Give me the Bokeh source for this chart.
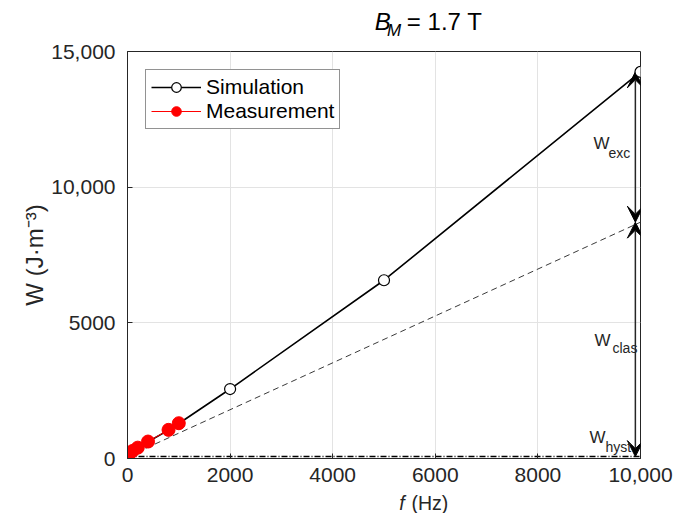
from bokeh.plotting import figure
from bokeh.layouts import column
from bokeh.models import (Range1d, FixedTicker, Legend, LegendItem, Label, Arrow, VeeHead)
from bokeh.embed import file_html
from bokeh.resources import INLINE

# ---------------- data ----------------
f_sim = [10, 100, 200, 400, 800, 1000, 2000, 5000, 10000]
W_sim = [70, 270, 390, 615, 1045, 1290, 2560, 6570, 14250]

f_meas = [10, 100, 200, 400, 800, 1000]
W_meas = [70, 280, 400, 625, 1055, 1300]

f_model = [0, 10000]
W_hyst = [70, 70]             # hysteresis component
W_hyst_clas = [70, 8710]      # hysteresis + classical

x_ticks = [0, 2000, 4000, 6000, 8000, 10000]
x_tick_labels = ["0", "2000", "4000", "6000", "8000", "10,000"]
y_ticks = [0, 5000, 10000, 15000]
y_tick_labels = ["0", "5000", "10,000", "15,000"]

FONT = "Liberation Sans"
DARK = "#262626"

W_TOTAL = 673
TITLE_H = 40
XLAB_H = 22
MAIN_H = 513 - TITLE_H - XLAB_H
BL, BR, BT, BB = 127, 33, 11, 33
frame_cx = BL + (W_TOTAL - BL - BR) / 2


def strip(h):
    s = figure(width=W_TOTAL, height=h, x_range=Range1d(0, W_TOTAL), y_range=Range1d(0, h),
               output_backend="svg", toolbar_location=None, x_axis_type=None, y_axis_type=None,
               min_border=0, min_border_left=0, min_border_right=0, min_border_top=0,
               min_border_bottom=0)
    s.title.text = ""
    s.outline_line_color = None
    s.background_fill_color = "white"
    s.border_fill_color = "white"
    return s


# ---------------- title strip: B_M = 1.7 T ----------------
t = strip(TITLE_H)
t.add_layout(Label(x=frame_cx - 59, y=19.3, text="B", text_font=FONT, text_font_size="24px",
                   text_font_style="italic", text_color="black", text_baseline="middle"))
t.add_layout(Label(x=frame_cx - 43, y=9.6, text="M", text_font=FONT, text_font_size="17px",
                   text_font_style="italic", text_color="black", text_baseline="middle"))
t.add_layout(Label(x=frame_cx - 17, y=19.3, text="= 1.7 T", text_font=FONT,
                   text_font_size="24px", text_color="black", text_baseline="middle"))

# ---------------- main plot ----------------
p = figure(width=W_TOTAL, height=MAIN_H, x_range=Range1d(0, 10000), y_range=Range1d(0, 15000),
           output_backend="svg", toolbar_location=None,
           min_border_left=BL, min_border_right=BR, min_border_top=BT, min_border_bottom=BB)
p.title.text = ""
p.background_fill_color = "white"
p.border_fill_color = "white"
p.outline_line_color = DARK
p.outline_line_width = 1

xax = p.xaxis[0]
yax = p.yaxis[0]
xax.ticker = FixedTicker(ticks=x_ticks)
yax.ticker = FixedTicker(ticks=y_ticks)
xax.major_label_overrides = {t_: l for t_, l in zip(x_ticks, x_tick_labels)}
yax.major_label_overrides = {t_: l for t_, l in zip(y_ticks, y_tick_labels)}
for ax in (xax, yax):
    ax.axis_line_color = DARK
    ax.major_tick_line_color = DARK
    ax.major_tick_in = 5
    ax.major_tick_out = 0
    ax.minor_tick_line_color = None
    ax.major_label_text_font = FONT
    ax.major_label_text_font_size = "21px"
    ax.major_label_text_color = DARK
xax.major_label_standoff = 9
yax.major_label_standoff = 12
yax.axis_label = "W (J\u00b7m\u207b\u00b3)"
yax.axis_label_text_font = FONT
yax.axis_label_text_font_size = "24px"
yax.axis_label_text_font_style = "normal"
yax.axis_label_text_color = DARK
yax.axis_label_standoff = 0

p.xgrid.ticker = FixedTicker(ticks=x_ticks)
p.ygrid.ticker = FixedTicker(ticks=y_ticks)
p.xgrid.grid_line_color = "#e3e3e3"
p.ygrid.grid_line_color = "#e3e3e3"

# model component lines
p.line(f_model, W_hyst, line_color="black", line_width=1.5, line_dash="6 2 1 2")
p.line(f_model, W_hyst_clas, line_color="#3a3a3a", line_width=1, line_dash="6 4")

# double arrows at the right edge (kept just inside the frame)
arrow_x = f_model[-1] - 100
for y0, y1 in ((W_hyst_clas[-1], W_sim[-1]), (W_hyst[-1], W_hyst_clas[-1])):
    p.add_layout(Arrow(x_start=arrow_x, y_start=y0, x_end=arrow_x, y_end=y1,
                       start=VeeHead(size=16, fill_color="black", line_color="black"),
                       end=VeeHead(size=16, fill_color="black", line_color="black"),
                       line_color=DARK, line_width=1.5, level="underlay"))

sim_line = p.line(f_sim, W_sim, line_color="black", line_width=1.6)
sim_pts = p.scatter(f_sim, W_sim, size=11, marker="circle", fill_color="white",
                    line_color="black", line_width=1.2)
meas_line = p.line(f_meas, W_meas, line_color="red", line_width=1)
meas_pts = p.scatter(f_meas, W_meas, size=13, marker="circle", fill_color="red",
                     line_color="red")

legend = Legend(items=[LegendItem(label="Simulation", renderers=[sim_line, sim_pts]),
                       LegendItem(label="Measurement", renderers=[meas_line, meas_pts])],
                location="top_left", margin=18, padding=5, spacing=0,
                glyph_width=50, glyph_height=24, label_height=24, label_standoff=5,
                label_text_font=FONT, label_text_font_size="21px", label_text_color="black",
                border_line_color=DARK, border_line_width=1, background_fill_alpha=1)
p.add_layout(legend)

# component labels (W + subscript)
exc_mid = (W_hyst_clas[-1] + W_sim[-1]) / 2
clas_mid = (W_hyst[-1] + W_hyst_clas[-1]) / 2
comp = [("exc", exc_mid, -47, 4, -32, -6),
        ("clas", clas_mid, -46, -1, -28, -9),
        ("hyst", W_hyst[-1], -51, 19, -35, 10)]
for sub, yv, xo, yo, sxo, syo in comp:
    p.add_layout(Label(x=f_model[-1], y=yv, x_offset=xo, y_offset=yo, text="W",
                       text_font=FONT, text_font_size="17px", text_color=DARK,
                       text_baseline="middle", text_align="left"))
    p.add_layout(Label(x=f_model[-1], y=yv, x_offset=sxo, y_offset=syo, text=sub,
                       text_font=FONT, text_font_size="14px", text_color=DARK,
                       text_baseline="middle", text_align="left"))

# ---------------- x label strip: f (Hz) ----------------
xl = strip(XLAB_H)
xl.add_layout(Label(x=frame_cx - 27, y=XLAB_H / 2, text="f", text_font=FONT,
                    text_font_size="19.5px", text_font_style="italic", text_color=DARK,
                    text_baseline="middle"))
xl.add_layout(Label(x=frame_cx - 11, y=XLAB_H / 2, text="(Hz)", text_font=FONT,
                    text_font_size="19.5px", text_color=DARK, text_baseline="middle"))

layout = column(t, p, xl, spacing=0)
open("out.html", "w").write(file_html(layout, INLINE))
